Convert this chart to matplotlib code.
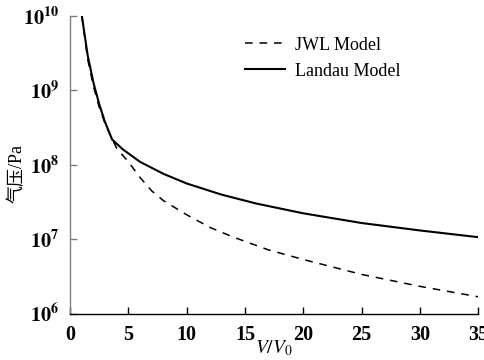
import matplotlib
matplotlib.use("Agg")
import matplotlib.pyplot as plt
import numpy as np
from matplotlib.ticker import FixedLocator, FuncFormatter, NullLocator

plt.rcParams['font.family'] = ['Liberation Serif', 'Noto Sans CJK SC', 'DejaVu Sans']
plt.rcParams['mathtext.fontset'] = 'stix'

# Landau model: V/V0 vs pressure (Pa)
landau_x = [1, 1.5, 2, 2.5, 3, 3.6, 4.5, 6, 8, 10, 13, 16, 20, 25, 30, 35]
landau_logp = [10.0, 9.47, 9.10, 8.81, 8.57, 8.34, 8.21, 8.04, 7.88, 7.75, 7.60, 7.48, 7.35, 7.22, 7.12, 7.03]

# JWL model
jwl_x = [1, 1.5, 2, 2.5, 3, 3.5, 4, 5, 6, 7, 8, 10, 12, 14, 17, 20, 25, 30, 35]
jwl_logp = [10.0, 9.42, 9.05, 8.77, 8.55, 8.38, 8.22, 8.04, 7.83, 7.65, 7.52, 7.33, 7.16, 7.03, 6.86, 6.73, 6.53, 6.37, 6.23]

x_ticks = [0, 5, 10, 15, 20, 25, 30, 35]
y_ticks = [1e6, 1e7, 1e8, 1e9, 1e10]

fig = plt.figure(figsize=(4.84, 3.6), dpi=100)
ax = fig.add_axes([0.145, 0.128, 0.843, 0.828])

ax.plot(jwl_x, 10 ** np.array(jwl_logp), color='black', lw=1.1, ls=(0, (5, 4.5)), label='JWL Model')
ax.plot(landau_x, 10 ** np.array(landau_logp), color='black', lw=1.5, ls='-', label='Landau Model')

ax.set_yscale('log')
ax.set_xlim(0, 35)
ax.set_ylim(1e6, 1e10)
ax.xaxis.set_major_locator(FixedLocator(x_ticks))
ax.yaxis.set_major_locator(FixedLocator(y_ticks))
ax.yaxis.set_minor_locator(NullLocator())
ax.xaxis.set_minor_locator(NullLocator())
ax.yaxis.set_major_formatter(FuncFormatter(lambda v, p: r'$\mathbf{10^{%d}}$' % int(round(np.log10(v)))))
ax.xaxis.set_major_formatter(FuncFormatter(lambda v, p: '%d' % v))

for s in ['top', 'right']:
    ax.spines[s].set_visible(False)
ax.spines['left'].set_color('#808080')
ax.spines['bottom'].set_color('black')
for s in ['left', 'bottom']:
    ax.spines[s].set_linewidth(1.0)

ax.tick_params(direction='in', length=5, width=1, labelsize=14.5)
ax.tick_params(axis='y', color='#808080', pad=8)
ax.tick_params(axis='x', color='black', pad=8)
for lab in ax.get_xticklabels() + ax.get_yticklabels():
    lab.set_fontweight('bold')

ax.set_xlabel(r'$\mathit{V}/\mathit{V}_0$', fontsize=14, labelpad=-5)
ax.set_ylabel('气压/Pa', fontsize=13)
ax.yaxis.set_label_coords(-0.108, 0.47)

ax.legend(loc='upper left', bbox_to_anchor=(0.388, 0.985), frameon=False, fontsize=13,
          handlelength=2.25, handletextpad=0.55, labelspacing=0.5)

fig.savefig('out.png', dpi=100)
